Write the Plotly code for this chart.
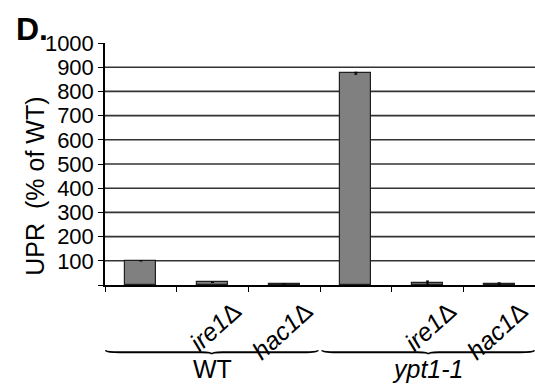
import plotly.graph_objects as go

# UPR reporter activity, normalised to wild type
strains = ["WT", "WT", "WT", "ypt1-1", "ypt1-1", "ypt1-1"]
genotypes = ["", "ire1", "hac1", "", "ire1", "hac1"]
upr = [100, 11, 5, 875, 10, 5]
upr_err = [0, 0, 0, 4, 6, 4]

y_ticks = list(range(0, 1001, 100))
y_tick_text = [str(v) if v else "" for v in y_ticks]
group_names = ["WT", "ypt1-1"]

FONT = "Liberation Sans, Arial, sans-serif"
x_pos = list(range(len(upr)))

fig = go.Figure()
fig.add_trace(go.Bar(
    x=x_pos, y=upr, width=0.43,
    marker=dict(color="#808080", line=dict(color="#202020", width=1.2)),
    error_y=dict(type="data", array=upr_err, visible=True,
                 color="#000000", thickness=1.2, width=1.5),
))

# horizontal gridlines (none on the zero line or the top of the range)
shapes = []
for v in y_ticks[1:-1]:
    shapes.append(dict(type="line", xref="paper", yref="y", x0=0, x1=1, y0=v, y1=v,
                       line=dict(color="#333333", width=1.6), layer="below"))

# curly braces under each strain group
def brace(x0, x1, y, h):
    xm = (x0 + x1) / 2
    return (f"M {x0},{y + h} Q {x0},{y} {x0 + 0.2},{y} L {xm - 0.15},{y} "
            f"Q {xm},{y} {xm},{y - h} Q {xm},{y} {xm + 0.15},{y} "
            f"L {x1 - 0.2},{y} Q {x1},{y} {x1},{y + h}")

for (x0, x1) in [(-0.49, 2.47), (2.53, 5.49)]:
    shapes.append(dict(type="path", xref="x", yref="paper",
                       path=brace(x0, x1, -0.278, 0.008),
                       line=dict(color="#000000", width=2)))

annotations = [
    dict(text="<b>D.</b>", xref="paper", yref="paper", x=-0.212, y=1.14,
         xanchor="left", yanchor="top", showarrow=False,
         font=dict(size=32, color="#000000", family=FONT)),
    dict(text="UPR  (% of WT)", textangle=-90, xref="paper", yref="paper",
         x=-0.163, y=0.41, xanchor="center", yanchor="middle", showarrow=False,
         font=dict(size=25, color="#000000", family=FONT)),
]
for i, name in enumerate(group_names):
    label = name if name == "WT" else f"<i>{name}</i>"
    annotations.append(dict(text=label, xref="x", yref="paper", x=1 + 3 * i, y=-0.347,
                            xanchor="center", yanchor="middle", showarrow=False,
                            font=dict(size=25, color="#000000", family=FONT)))

fig.update_layout(
    width=535, height=391,
    margin=dict(l=105, r=0, t=43, b=106),
    paper_bgcolor="white", plot_bgcolor="white",
    showlegend=False, bargap=0,
    shapes=shapes, annotations=annotations,
    font=dict(family=FONT, color="#000000"),
    xaxis=dict(
        range=[-0.5, 5.5], tickmode="array", tickvals=x_pos,
        ticktext=[f"<i>{g}</i>Δ" if g else "" for g in genotypes],
        tickangle=-42, ticks="", showgrid=False, zeroline=False,
        showline=True, linecolor="#000000", linewidth=1.5,
        tickfont=dict(size=25, family=FONT, color="#000000"),
        ticklabelshift=22, ticklabeloverflow="allow",
        minor=dict(tick0=-0.5, dtick=1, ticks="outside", ticklen=5,
                   tickcolor="#000000", tickwidth=1.2, showgrid=False),
    ),
    yaxis=dict(
        range=[0, 1000], tickmode="array", tickvals=y_ticks, ticktext=y_tick_text,
        ticks="outside", ticklen=5, tickcolor="#000000", tickwidth=1.2,
        showgrid=False, zeroline=False,
        showline=True, linecolor="#000000", linewidth=1.5,
        tickfont=dict(size=22, family=FONT, color="#000000"),
    ),
)

fig.write_html("out.html")
